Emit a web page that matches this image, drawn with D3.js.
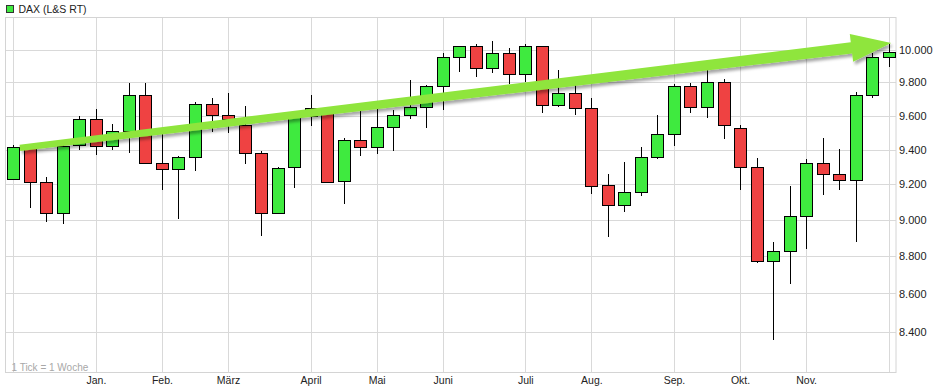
<!DOCTYPE html>
<html><head><meta charset="utf-8">
<script src="https://cdn.jsdelivr.net/npm/d3@7/dist/d3.min.js"></script>
<style>
body{margin:0;background:#fff;}
svg{display:block;font-family:"Liberation Sans",Arial,sans-serif;}
</style>
</head><body>
<svg id="chart" width="933" height="391"></svg>
<script>
// ---------- data ----------
const seriesName = "DAX (L&S RT)";
const footNote = "1 Tick = 1 Woche";
const weeks = ["2013-11-25","2013-12-02","2013-12-09","2013-12-16","2013-12-23","2013-12-30",
  "2014-01-06","2014-01-13","2014-01-20","2014-01-27","2014-02-03","2014-02-10","2014-02-17","2014-02-24",
  "2014-03-03","2014-03-10","2014-03-17","2014-03-24","2014-03-31","2014-04-07","2014-04-14","2014-04-21",
  "2014-04-28","2014-05-05","2014-05-12","2014-05-19","2014-05-26","2014-06-02","2014-06-09","2014-06-16",
  "2014-06-23","2014-06-30","2014-07-07","2014-07-14","2014-07-21","2014-07-28","2014-08-04","2014-08-11",
  "2014-08-18","2014-08-25","2014-09-01","2014-09-08","2014-09-15","2014-09-22","2014-09-29","2014-10-06",
  "2014-10-13","2014-10-20","2014-10-27","2014-11-03","2014-11-10","2014-11-17","2014-11-24","2014-12-01"];
const openV  = [9229,9416,9214,9037,9425,9577,9420,9508,9725,9325,9290,9355,9666,9606,9543,9381,9041,9297,9596,9620,
  9219,9454,9416,9534,9606,9648,9780,9951,10020,9884,9979,9847,10020,9660,9734,9642,9194,9084,9155,9355,
  9494,9776,9648,9804,9524,9297,8774,8827,9021,9320,9262,9223,9720,9957];
const highV  = [9425,9430,9243,9430,9596,9640,9549,9796,9796,9502,9363,9680,9702,9737,9656,9391,9298,9615,9722,9625,
  9469,9632,9642,9632,9812,9782,9979,10020,10037,10051,10012,10037,10020,9877,9788,9702,9260,9328,9416,9602,
  9792,9796,9884,9817,9543,9352,8876,9191,9343,9469,9404,9740,9979,10033];
const lowV   = [9228,9064,8986,8980,9397,9367,9397,9381,9316,9167,9004,9278,9504,9498,9316,8913,9038,9180,9537,9213,
  9088,9364,9372,9393,9577,9528,9636,9863,9829,9857,9788,9802,9616,9651,9601,9148,8904,9045,9136,9346,
  9422,9616,9587,9460,9167,8763,8355,8649,8840,9142,9167,8878,9706,9890];
const closeV = [9416,9216,9037,9420,9577,9420,9506,9725,9323,9290,9355,9666,9606,9578,9381,9041,9296,9596,9645,9215,
  9456,9416,9535,9606,9648,9780,9951,10020,9884,9979,9847,10020,9660,9734,9642,9191,9084,9155,9355,9494,
  9776,9648,9804,9543,9297,8774,8827,9021,9320,9262,9223,9720,9957,9982];
const monthStarts = ["2013-12-01","2014-01-01","2014-02-01","2014-03-01","2014-04-01","2014-05-01","2014-06-01",
  "2014-07-01","2014-08-01","2014-09-01","2014-10-01","2014-11-01","2014-12-01"];
const monthLabels = ["","Jan.","Feb.","März","April","Mai","Juni","Juli","Aug.","Sep.","Okt.","Nov.",""];
const yTicks = [8400,8600,8800,9000,9200,9400,9600,9800,10000];
const trendArrow = [{week:0.4, value:9410},{week:53.15, value:10040}];

// ---------- layout ----------
const plot = {left:5.5, right:896, top:17.5, bottom:372.5};
const svg = d3.select("#chart");
const parse = d3.utcParse("%Y-%m-%d");
const weekDates = weeks.map(parse);

const x = d3.scaleLinear().domain([0, weeks.length-1]).range([13.3, 888.7]);
const y = d3.scaleLog().domain([8190, 10200]).range([plot.bottom, plot.top]);
const fmt = d3.formatLocale({decimal:",", thousands:".", grouping:[3], currency:["","€"]}).format(",d");
const px = v => Math.round(v) + 0.5;

// month tick positions: week containing the first day of the month
const monthIdx = monthStarts.map(s => {
  const d = parse(s);
  return weekDates.findIndex(w => d >= w && d < d3.utcDay.offset(w, 7));
});

// grid
const g = svg.append("g");
g.selectAll("line.h").data(yTicks).join("line")
  .attr("x1", plot.left).attr("x2", plot.right)
  .attr("y1", d => px(y(d))).attr("y2", d => px(y(d)))
  .attr("stroke", "#d9d9d9");
g.selectAll("line.v").data(monthIdx).join("line")
  .attr("y1", plot.top).attr("y2", plot.bottom)
  .attr("x1", d => px(x(d))).attr("x2", d => px(x(d)))
  .attr("stroke", "#d9d9d9");
g.append("rect").attr("x", plot.left).attr("y", plot.top)
  .attr("width", plot.right - plot.left).attr("height", plot.bottom - plot.top)
  .attr("fill", "none").attr("stroke", "#d4d4d4");

// y axis labels (right)
const yAxis = d3.axisRight(y).tickValues(yTicks).tickFormat(fmt).tickSize(0).tickPadding(3);
const ya = svg.append("g").attr("transform", `translate(${plot.right},0)`).call(yAxis);
ya.select(".domain").remove();
ya.selectAll("text").attr("font-size", 11).attr("fill", "#222").attr("font-family", "Liberation Sans, Arial, sans-serif");

// x axis labels
const xa = svg.append("g").attr("transform", `translate(0,${plot.bottom})`)
  .call(d3.axisBottom(x).tickValues(monthIdx).tickFormat((d,i) => monthLabels[i]).tickSize(0).tickPadding(4));
xa.select(".domain").remove();
xa.selectAll("text").attr("font-size", 10.5).attr("fill", "#222").attr("font-family", "Liberation Sans, Arial, sans-serif");

// candles
const data = weeks.map((w,i) => ({i, o:openV[i], h:highV[i], l:lowV[i], c:closeV[i]}));
const cg = svg.append("g");
cg.selectAll("line.wick").data(data).join("line")
  .attr("x1", d => px(x(d.i))).attr("x2", d => px(x(d.i)))
  .attr("y1", d => Math.round(y(d.h))).attr("y2", d => Math.round(y(d.l)))
  .attr("stroke", "#000").attr("stroke-width", 1);
cg.selectAll("rect.body").data(data).join("rect")
  .attr("x", d => Math.round(x(d.i) - 6) + 0.5)
  .attr("width", 12)
  .attr("y", d => px(y(Math.max(d.o, d.c))))
  .attr("height", d => Math.max(1, Math.round(y(Math.min(d.o, d.c))) - Math.round(y(Math.max(d.o, d.c)))))
  .attr("fill", d => d.c >= d.o ? "#3fea3f" : "#ef4242")
  .attr("stroke", "#000").attr("stroke-width", 1);

// trend arrow annotation
const defs = svg.append("defs");
const f = defs.append("filter").attr("id", "sh").attr("x", "-10%").attr("y", "-50%").attr("width", "120%").attr("height", "200%");
f.append("feDropShadow").attr("dx", 2).attr("dy", 3).attr("stdDeviation", 1.6)
  .attr("flood-color", "#000").attr("flood-opacity", 0.35);
const p0 = [x(trendArrow[0].week), y(trendArrow[0].value)];
const tip = [x(trendArrow[1].week), y(trendArrow[1].value)];
const dx = tip[0]-p0[0], dy = tip[1]-p0[1], len = Math.hypot(dx, dy);
const u = [dx/len, dy/len], n = [-u[1], u[0]];
const headLen = 40, headHalf = 14, w0 = 3.2, w1 = 5.6;
const base = [tip[0]-u[0]*headLen, tip[1]-u[1]*headLen];
const P = (p, k) => [p[0]+n[0]*k, p[1]+n[1]*k];
const poly = [P(p0, w0), P(base, w1), P(base, headHalf), tip, P(base, -headHalf), P(base, -w1), P(p0, -w0)];
svg.append("path").attr("d", "M" + poly.map(p => p.join(",")).join("L") + "Z")
  .attr("fill", "#8fe53c").attr("filter", "url(#sh)");

// legend
svg.append("rect").attr("x", 6.5).attr("y", 5.5).attr("width", 7).attr("height", 7)
  .attr("fill", "#3fea3f").attr("stroke", "#333");
svg.append("text").attr("x", 18.5).attr("y", 12.5).attr("font-size", 10.5).attr("fill", "#222").text(seriesName);

// foot note
svg.append("text").attr("x", 11.5).attr("y", 370.5).attr("font-size", 10).attr("fill", "#a8a8a8").text(footNote);
</script>
</body></html>
